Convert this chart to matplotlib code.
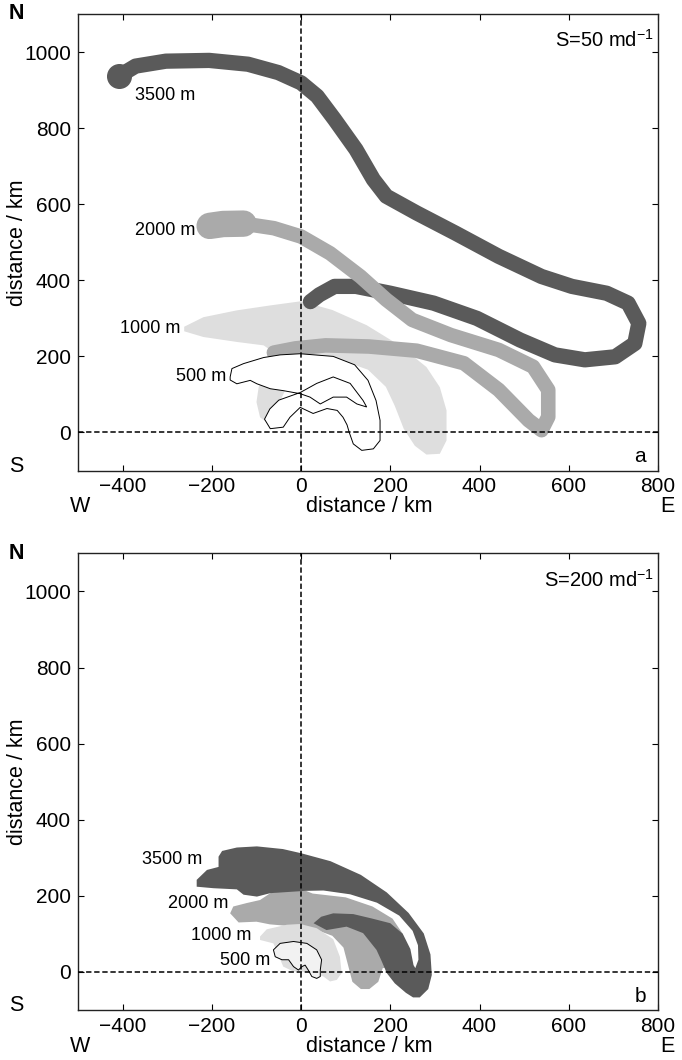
import matplotlib.pyplot as plt
from matplotlib.patches import Polygon

plt.rcParams['font.family'] = ['Liberation Sans', 'DejaVu Sans']

# ---------------- panel a (S = 50 m/d) ----------------
# broad trajectory bands, centre lines in km
a3500_x = [-408, -371, -303, -206, -119, -51, 0, 36, 75, 123, 162, 191, 259, 346, 443, 539,
           607, 685, 733, 757, 748, 704, 636, 569, 491, 394, 297, 200, 123, 75, 41, 21]
a3500_y = [937, 963, 976, 978, 968, 946, 919, 884, 823, 744, 665, 621, 577, 524, 463, 410,
           384, 366, 340, 287, 234, 199, 191, 204, 243, 300, 340, 366, 384, 384, 362, 344]

a2000_x = [-205, -175, -129, -61, 0, 65, 133, 191, 249, 336, 443, 520, 554, 554, 539,
           510, 443, 365, 259, 152, 55, -13, -61]
a2000_y = [543, 548, 549, 537, 515, 471, 410, 349, 296, 256, 217, 173, 112, 41, 6,
           32, 112, 182, 215, 226, 229, 221, 210]

# 1000 m field outline
a1000_x = [-262, -219, -144, -69, 0, 70, 147, 222, 281, 311, 326, 326, 311, 281, 255, 230,
           210, 190, 150, 90, 30, -30, -70, -95, -100, -92, -75, -60, -20, -10, -62, -84,
           -144, -219, -262]
a1000_y = [278, 303, 321, 334, 345, 322, 282, 228, 172, 119, 58, -21, -56, -58, -35, 10,
           70, 120, 165, 190, 200, 195, 170, 120, 80, 40, 25, 50, 150, 215, 211, 229,
           238, 251, 266]

# 500 m contour
a500_x = [-159, -155, -129, -84, -47, -2, 72, 120, 150, 168, 177, 177, 162, 136, 117, 108,
          103, 94, 81, 58, 27, -2, -25, -40, -69, -82, -70, -50, -2, 35, 72, 110, 139, 147,
          125, 102, 72, 43, 20, -2, -40, -69, -99, -114, -144, -159]
a500_y = [146, 168, 181, 197, 204, 207, 200, 178, 137, 84, 32, -21, -43, -47, -30, 0,
          20, 40, 58, 63, 50, 66, 40, 14, 10, 35, 62, 85, 105, 129, 146, 129, 84, 67,
          75, 93, 93, 75, 93, 102, 110, 115, 128, 137, 128, 138]

# ---------------- panel b (S = 200 m/d) ----------------
b3500_x = [-234, -234, -211, -185, -185, -177, -144, -99, -41, 0, 66, 134, 192, 241, 275, 290,
           293, 285, 266, 251, 235, 210, 192, 180, 169, 139, 102, 57, 28,
           45, 72, 117, 160, 200, 228, 245, 252, 256,
           263, 262, 250, 220, 170, 110, 50, 8,
           -69, -99, -129, -144, -196]
b3500_y = [224, 242, 268, 276, 303, 318, 327, 330, 323, 312, 291, 255, 209, 155, 101, 46,
           -8, -45, -67, -67, -55, -30, -3, 30, 58, 102, 119, 110, 128,
           145, 154, 152, 140, 128, 100, 60, 18, 10,
           32, 70, 108, 148, 182, 204, 214, 213,
           207, 198, 203, 217, 220]

b2000_x = [-159, -152, -122, -92, -69, -32, 0, 26, 100, 160, 205, 228, 240, 183, 173,
           153, 134, 115, 105, 95, 70, 40, 0, -40, -70, -100, -140]
b2000_y = [154, 172, 181, 189, 207, 216, 218, 206, 196, 172, 140, 100, 20, 10, -26,
           -45, -45, -26, 19, 64, 95, 108, 118, 122, 125, 132, 130]

b1000_x = [-92, -77, -32, -2, 35, 72, 87, 91, 80, 65, 50, 20, -17, -40, -62, -92]
b1000_y = [93, 112, 124, 126, 115, 86, 40, -3, -21, -25, -12, 0, 1, 14, 75, 84]

b500_x = [-62, -47, -17, 13, 35, 46, 43, 43, 35, 24, 16, 9, 2, -6, -17, -28, -43, -58]
b500_y = [58, 75, 80, 75, 58, 32, 5, -12, -17, -12, 5, 18, 14, 5, 14, 32, 32, 40]

# labels
depths = ['3500 m', '2000 m', '1000 m', '500 m']
a_lab_x = [-304, -304, -338, -224]
a_lab_y = [887, 532, 273, 146]
b_lab_x = [-290, -230, -178, -125]
b_lab_y = [295, 179, 95, 30]

xticks = [-400, -200, 0, 200, 400, 600, 800]
yticks = [0, 200, 400, 600, 800, 1000]

c_dark = '#5a5a5a'
c_mid = '#aaaaaa'
c_light = '#dedede'

fig = plt.figure(figsize=(6.82, 10.6), dpi=100)
ax_a = fig.add_axes([0.1144, 0.5561, 0.8504, 0.4307])
ax_b = fig.add_axes([0.1144, 0.0472, 0.8504, 0.4307])

# ---- panel a ----
ax_a.add_patch(Polygon(list(zip(a1000_x, a1000_y)), closed=True, fc=c_light, ec='none', zorder=1))
ax_a.plot(a3500_x, a3500_y, color=c_dark, lw=11, solid_capstyle='round',
          solid_joinstyle='round', zorder=2)
ax_a.plot(a3500_x[0], a3500_y[0], 'o', color=c_dark, ms=17, zorder=2)
ax_a.plot(a2000_x, a2000_y, color=c_mid, lw=10.5, solid_capstyle='round',
          solid_joinstyle='round', zorder=3)
ax_a.plot(a2000_x[:3], a2000_y[:3], color=c_mid, lw=19, solid_capstyle='round', zorder=3)
ax_a.add_patch(Polygon(list(zip(a500_x, a500_y)), closed=True, fc='white', ec='black',
                       lw=0.7, zorder=4))

# ---- panel b ----
ax_b.add_patch(Polygon(list(zip(b2000_x, b2000_y)), closed=True, fc=c_mid, ec='none', zorder=1))
ax_b.add_patch(Polygon(list(zip(b3500_x, b3500_y)), closed=True, fc=c_dark, ec='none', zorder=2))
ax_b.add_patch(Polygon(list(zip(b1000_x, b1000_y)), closed=True, fc=c_light, ec='none', zorder=3))
ax_b.add_patch(Polygon(list(zip(b500_x, b500_y)), closed=True, fc='#f2f2f2', ec='black',
                       lw=0.7, zorder=4))

for ax, lab_x, lab_y, s_txt, letter in [
        (ax_a, a_lab_x, a_lab_y, r'S=50 md$^{\mathregular{-1}}$', 'a'),
        (ax_b, b_lab_x, b_lab_y, r'S=200 md$^{\mathregular{-1}}$', 'b')]:
    for name, lx, ly in zip(depths, lab_x, lab_y):
        ax.text(lx, ly, name, fontsize=13, ha='center', va='center', zorder=6)
    ax.axhline(0, color='black', lw=1.1, ls=(0, (3.5, 1.8)), zorder=5)
    ax.axvline(0, color='black', lw=1.1, ls=(0, (3.5, 1.8)), zorder=5)
    ax.set_xlim(-500, 800)
    ax.set_ylim(-100, 1100)
    ax.set_xticks(xticks)
    ax.set_yticks(yticks)
    ax.tick_params(direction='in', top=True, right=True, length=4, width=0.8,
                   labelsize=15, pad=5)
    for sp in ax.spines.values():
        sp.set_linewidth(1.0)
        sp.set_color('#222222')
    ax.text(0.993, 0.943, s_txt, transform=ax.transAxes, ha='right', va='center', fontsize=14.5)
    ax.text(0.969, 0.03, letter, transform=ax.transAxes, ha='center', va='center', fontsize=15)
    ax.text(-0.105, 0.5, 'distance / km', transform=ax.transAxes, rotation=90,
            ha='center', va='center', fontsize=15.5)
    ax.text(0.503, -0.079, 'distance / km', transform=ax.transAxes, ha='center',
            va='center', fontsize=15.5)
    ax.text(0.003, -0.079, 'W', transform=ax.transAxes, ha='center', va='center', fontsize=15.5)
    ax.text(1.016, -0.079, 'E', transform=ax.transAxes, ha='center', va='center', fontsize=15.5)
    ax.text(-0.107, 1.0, 'N', transform=ax.transAxes, ha='center', va='center',
            fontsize=15.5, fontweight='bold')
    ax.text(-0.107, 0.009, 'S', transform=ax.transAxes, ha='center', va='center', fontsize=15.5)

fig.savefig('out.png', dpi=100)
